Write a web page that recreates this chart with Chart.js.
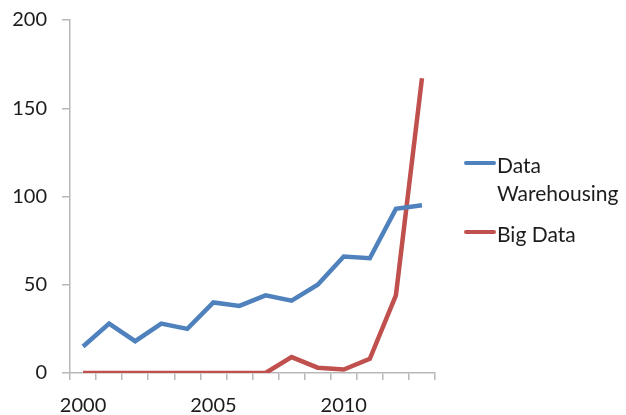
<!DOCTYPE html>
<html>
<head>
<meta charset="utf-8">
<script src="https://cdn.jsdelivr.net/npm/chart.js@4/dist/chart.umd.min.js"></script>
<style>
  html, body { margin: 0; padding: 0; background: #fff; }
  #wrap { width: 626px; height: 415px; }
</style>
</head>
<body>
<div id="wrap"><canvas id="c" width="626" height="415"></canvas></div>
<script>
const years = ['2000','2001','2002','2003','2004','2005','2006','2007','2008','2009','2010','2011','2012','2013'];
const dataWarehousing = [15, 28, 18, 28, 25, 40, 38, 44, 41, 50, 66, 65, 93, 95];
const bigData = [0, 0, 0, 0, 0, 0, 0, 0, 9, 3, 2, 8, 44, 167];
const seriesNames = [['Data', 'Warehousing'], ['Big Data']];
const seriesColors = ['#4f81bd', '#c0504d'];
const yTicks = [0, 50, 100, 150, 200];

const FONT = 'Lato, "Open Sans", sans-serif';
const TEXT = '#1c1c1c';
const AXIS = '#b8b8b8';

// Legend drawn beside the plot, with a two-line entry for the first series
const sideLegend = {
  id: 'sideLegend',
  afterDraw(chart) {
    const ctx = chart.ctx;
    const x0 = 466, x1 = 494, tx = 497;
    const swatchY = [163, 232];
    const baselines = [[173, 201], [242]];
    ctx.save();
    ctx.font = '21px ' + FONT;
    ctx.textBaseline = 'alphabetic';
    ctx.textAlign = 'left';
    chart.data.datasets.forEach((ds, i) => {
      ctx.strokeStyle = ds.borderColor;
      ctx.lineWidth = 4;
      ctx.lineCap = 'round';
      ctx.beginPath();
      ctx.moveTo(x0, swatchY[i]);
      ctx.lineTo(x1, swatchY[i]);
      ctx.stroke();
      ctx.fillStyle = TEXT;
      seriesNames[i].forEach((t, k) => ctx.fillText(t, tx, baselines[i][k]));
    });
    ctx.restore();
  }
};

new Chart(document.getElementById('c'), {
  type: 'line',
  data: {
    labels: years,
    datasets: [
      { label: seriesNames[0].join(' '), data: dataWarehousing, borderColor: seriesColors[0], backgroundColor: seriesColors[0] },
      { label: seriesNames[1].join(' '), data: bigData, borderColor: seriesColors[1], backgroundColor: seriesColors[1] }
    ]
  },
  options: {
    responsive: false,
    animation: false,
    layout: { padding: { left: 10, right: 191, top: 0, bottom: 0 } },
    elements: {
      line: { borderWidth: 4.5, tension: 0, borderCapStyle: 'butt', borderJoinStyle: 'miter' },
      point: { radius: 0, hoverRadius: 0 }
    },
    plugins: { legend: { display: false }, tooltip: { enabled: false } },
    scales: {
      x: {
        offset: true,
        afterFit: (axis) => { axis.height = 42; },
        grid: { drawOnChartArea: false, offset: true, color: AXIS, tickLength: 7, lineWidth: 1.5 },
        border: { color: AXIS, width: 1.5 },
        ticks: {
          autoSkip: false, maxRotation: 0, padding: 14,
          color: TEXT, font: { family: FONT, size: 20 },
          callback: (v, i) => (i % 5 === 0 ? years[i] : '')
        }
      },
      y: {
        min: 0, max: 200,
        afterBuildTicks: (axis) => { axis.ticks = yTicks.map(v => ({ value: v })); },
        afterFit: (axis) => { axis.width = 60; axis.paddingTop = 20; },
        grid: { drawOnChartArea: false, color: AXIS, tickLength: 8, lineWidth: 1.5 },
        border: { color: AXIS, width: 1.5 },
        ticks: { padding: 15, color: TEXT, font: { family: FONT, size: 20 } }
      }
    }
  },
  plugins: [sideLegend]
});
</script>
</body>
</html>
